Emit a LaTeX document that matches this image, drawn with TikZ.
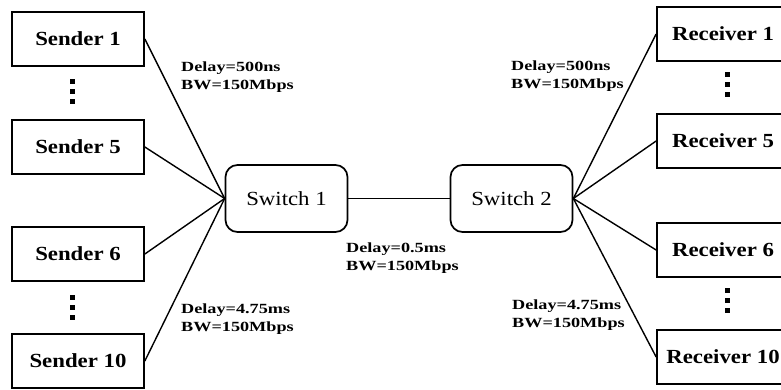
\documentclass[tikz,border=0pt]{standalone}
\usepackage{fontspec}
\setmainfont{Liberation Serif}
\newfontfamily\boxfont[FakeStretch=1.14]{Liberation Serif}
\newfontfamily\linkfont[FakeStretch=1.3]{Liberation Serif}
\usetikzlibrary{positioning}

\begin{document}
\begin{tikzpicture}[x=1pt, y=-1pt,
  host/.style={draw, line width=1.7pt, minimum width=132pt, minimum height=54pt, inner sep=0pt,
    font=\boxfont\bfseries\fontsize{20}{24}\selectfont},
  switch/.style={draw, line width=1.7pt, rounded corners=12pt, minimum width=122pt, minimum height=67pt,
    inner sep=0pt, font=\boxfont\fontsize{20}{24}\selectfont},
  link/.style={line width=1.4pt},
  delay/.style={anchor=north west, inner sep=0pt, align=left, font=\linkfont\bfseries\fontsize{14}{18}\selectfont}]
\clip (0,0) rectangle (781,390);
% end hosts
\node[host] (s1) at (78,39) {Sender 1};
\node[host] (s5) at (78,147) {Sender 5};
\node[host] (s6) at (78,254) {Sender 6};
\node[host] (s10) at (78,361) {Sender 10};
\node[host] (r1) at (723,34) {Receiver 1};
\node[host] (r5) at (723,141) {Receiver 5};
\node[host] (r6) at (723,250) {Receiver 6};
\node[host] (r10) at (723,357) {Receiver 10};
% switches
\node[switch] (sw1) at (286.5,198.5) {Switch 1};
\node[switch] (sw2) at (511.5,198.5) {Switch 2};
% links
\foreach \s in {s1,s5,s6,s10}
  \draw[link] (\s.east) -- (sw1.west);
\foreach \r in {r1,r5,r6,r10}
  \draw[link] (sw2.east) -- (\r.west);
\draw[link] (sw1) -- (sw2);
% link parameters
\node[delay] (d1) at (181,62) {Delay=500ns\\BW=150Mbps};
\node[delay] (d2) at (181,304) {Delay=4.75ms\\BW=150Mbps};
\node[delay] (d3) at (346,243) {Delay=0.5ms\\BW=150Mbps};
\node[delay] (d4) at (511,61) {Delay=500ns\\BW=150Mbps};
\node[delay] (d5) at (512,300) {Delay=4.75ms\\BW=150Mbps};
% dots between hosts
\foreach \x/\y in {72/82, 727/75, 72/297, 727/290}
  \foreach \k in {0,10,20}
    \fill (\x-2.5,\y+\k-2.5) rectangle ++(5,5);
\end{tikzpicture}
\end{document}
